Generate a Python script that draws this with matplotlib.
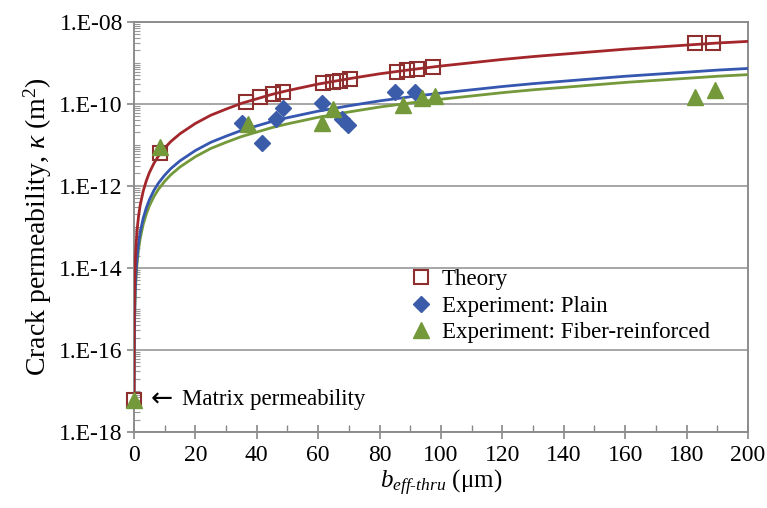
import numpy as np
import matplotlib
matplotlib.use('Agg')
import matplotlib.pyplot as plt
from matplotlib.ticker import FixedLocator, FuncFormatter

plt.rcParams['font.family'] = ['Liberation Serif', 'DejaVu Serif']
plt.rcParams['mathtext.fontset'] = 'custom'
plt.rcParams['mathtext.rm'] = 'Liberation Serif'
plt.rcParams['mathtext.it'] = 'Liberation Serif:italic'

# theory points (b in um, log10 of kappa)
theory_b = [0, 8.5, 36.5, 41, 45.3, 48.5, 61.6, 64.8, 67, 70.4, 85.7, 89, 92.2, 97.4, 182.7, 188.6]
theory_logk = [-17.22, -11.20, -9.96, -9.84, -9.76, -9.71, -9.49, -9.47, -9.45, -9.40,
               -9.23, -9.18, -9.15, -9.10, -8.52, -8.52]

plain_b = [35.2, 41.7, 46.3, 48.5, 61.2, 67.8, 69.7, 85, 91.5]
plain_logk = [-10.47, -10.96, -10.37, -10.10, -9.98, -10.37, -10.52, -9.71, -9.71]

fiber_b = [0, 8.5, 37.1, 61.2, 64.8, 87.6, 93.8, 98, 182.7, 189.3]
fiber_logk = [-17.22, -11.05, -10.49, -10.47, -10.13, -10.03, -9.86, -9.81, -9.84, -9.66]

# fitted curves
curve_b = [0, 0.05, 0.1, 0.2, 0.3, 0.45, 0.6, 1, 1.5, 2, 3, 4, 5, 6.5, 8, 10, 12, 15, 20, 25,
           30, 35, 40, 45, 50, 60, 70, 80, 90, 100, 110, 120, 130, 140, 150, 160, 170, 180, 190, 200]
curve_theory = [-17.22, -15.68, -15.08, -14.48, -14.13, -13.77, -13.52, -13.08, -12.73, -12.48,
                -12.13, -11.88, -11.68, -11.45, -11.27, -11.08, -10.92, -10.73, -10.48, -10.28,
                -10.13, -9.99, -9.88, -9.77, -9.68, -9.52, -9.39, -9.27, -9.17, -9.08,
                -9.00, -8.92, -8.85, -8.79, -8.73, -8.67, -8.62, -8.57, -8.52, -8.48]
curve_plain = [-17.22, -16.34, -15.74, -15.14, -14.79, -14.43, -14.18, -13.74, -13.39, -13.14,
               -12.79, -12.54, -12.34, -12.11, -11.93, -11.74, -11.58, -11.39, -11.14, -10.94,
               -10.79, -10.65, -10.54, -10.43, -10.34, -10.18, -10.05, -9.93, -9.83, -9.74,
               -9.66, -9.58, -9.51, -9.45, -9.39, -9.33, -9.28, -9.23, -9.18, -9.14]
curve_fiber = [-17.22, -16.49, -15.89, -15.29, -14.94, -14.58, -14.33, -13.89, -13.54, -13.29,
               -12.94, -12.69, -12.49, -12.26, -12.08, -11.89, -11.73, -11.54, -11.29, -11.09,
               -10.94, -10.80, -10.69, -10.58, -10.49, -10.33, -10.20, -10.08, -9.98, -9.89,
               -9.81, -9.73, -9.66, -9.60, -9.54, -9.48, -9.43, -9.38, -9.33, -9.29]

red = '#A3262B'
blue = '#3557B0'
green = '#74993A'

fig = plt.figure(figsize=(7.67, 5.08), dpi=100)
ax = fig.add_axes([0.1747, 0.1496, 0.8005, 0.8077])

ax.plot(curve_b, 10 ** np.array(curve_fiber), color=green, lw=2, zorder=3)
ax.plot(curve_b, 10 ** np.array(curve_plain), color=blue, lw=2, zorder=3)
ax.plot(curve_b, 10 ** np.array(curve_theory), color=red, lw=2, zorder=3)

ax.plot(theory_b, 10 ** np.array(theory_logk), ls='none', marker='s', ms=10,
        mfc='none', mec='#8E2F2F', mew=1.5, label='Theory', zorder=4, clip_on=False)
ax.plot(plain_b, 10 ** np.array(plain_logk), ls='none', marker='D', ms=8.5,
        color='#3B5CA8', label='Experiment: Plain', zorder=5, clip_on=False)
ax.plot(fiber_b, 10 ** np.array(fiber_logk), ls='none', marker='^', ms=11,
        color=green, label='Experiment: Fiber-reinforced', zorder=6, clip_on=False)

ax.set_yscale('log')
ax.set_xlim(0, 200)
ax.set_ylim(1e-18, 1e-8)

major = [10.0 ** e for e in range(-18, -7, 2)]
minor = [m * 10.0 ** e for e in range(-18, -8) for m in range(1, 10)]
ax.yaxis.set_major_locator(FixedLocator(major))
ax.yaxis.set_minor_locator(FixedLocator(minor))
ax.yaxis.set_major_formatter(FuncFormatter(lambda v, p: '1.E%03d' % int(round(np.log10(v)))))
ax.yaxis.set_minor_formatter(FuncFormatter(lambda v, p: ''))
ax.set_xticks(range(0, 201, 20))
ax.set_xticks(range(10, 200, 20), minor=True)

ax.tick_params(axis='y', which='major', direction='out', length=5, width=1.2,
               color='#888888', labelsize=17, pad=3)
ax.tick_params(axis='y', which='minor', direction='in', length=4, width=0.8, color='#999999')
ax.tick_params(axis='x', which='major', direction='inout', length=10, width=1.2,
               color='#888888', labelsize=17, pad=4)
ax.tick_params(axis='x', which='minor', direction='in', length=5, width=1.0, color='#888888')

ax.yaxis.grid(True, which='major', color='#a6a6a6', lw=1.4)
ax.set_axisbelow(True)
for s in ax.spines.values():
    s.set_color('#8c8c8c')
    s.set_linewidth(1.4)

ax.set_ylabel(r'Crack permeability, $\kappa$ (m$^2$)', fontsize=20, labelpad=4)
ax.set_xlabel(r'$b_{eff\text{-}thru}$ (μm)', fontsize=18, labelpad=2)

ax.text(5.3, 10 ** -17.22, '←', fontsize=19, va='center', ha='left', family='DejaVu Sans')
ax.text(15.5, 10 ** -17.22, 'Matrix permeability', fontsize=16.5, va='center', ha='left')

ax.legend(loc='upper left', bbox_to_anchor=(0.43, 0.42), frameon=False, fontsize=16.5,
          handletextpad=0.3, labelspacing=0.25, borderaxespad=0, handlelength=1.2)

fig.savefig('out.png', dpi=100)
